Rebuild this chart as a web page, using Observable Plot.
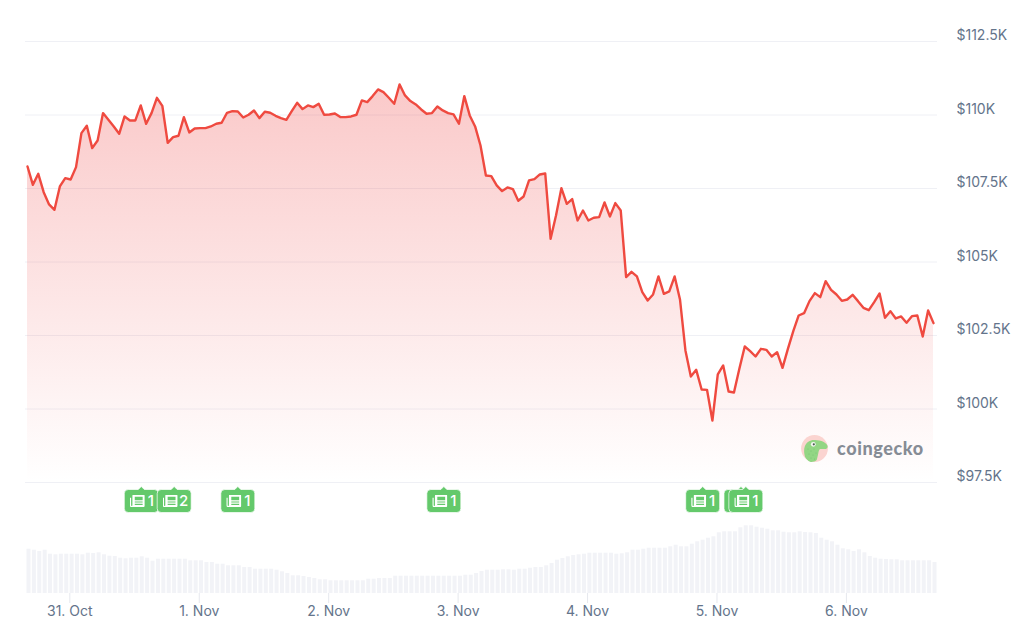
<!DOCTYPE html>
<html>
<head>
<meta charset="utf-8">
<script src="https://cdn.jsdelivr.net/npm/d3@7"></script>
<script src="https://cdn.jsdelivr.net/npm/@observablehq/plot@0.6"></script>
<style>
html,body{margin:0;padding:0;background:#fff;}
#chart{position:relative;width:1024px;height:639px;overflow:hidden;font-family:Inter,sans-serif;}
#chart>svg{position:absolute;left:0;top:0;}
#logo{position:absolute;left:801px;top:435px;display:flex;align-items:center;height:27px;}
#logo span{margin-left:9px;margin-top:-2px;font-family:Lato,sans-serif;font-weight:900;font-size:18px;letter-spacing:.6px;color:#868c95;}
</style>
</head>
<body>
<div id="chart"></div>
<script>
const prices = [
108249,107626,108000,107376,106957,106775,107569,107852,107807,108227,
109383,109633,108873,109134,110064,109837,109610,109361,109950,109814,
109814,110325,109701,110064,110585,110313,109054,109247,109293,109928,
109406,109542,109553,109553,109610,109701,109735,110075,110132,110120,
109916,110007,110154,109894,110109,110075,109973,109894,109837,110132,
110415,110200,110325,110268,110381,110007,110018,110052,109928,109928,
109951,110008,110495,110439,110643,110870,110779,110586,110382,111040,
110665,110473,110359,110189,110042,110064,110291,110155,110064,110019,
109702,110643,109985,109611,108964,107944,107921,107604,107411,107536,
107479,107082,107229,107774,107819,107978,108012,105789,106583,107513,
106980,107139,106413,106753,106413,106504,106526,107025,106549,107003,
106753,104485,104667,104508,103975,103691,103896,104508,103918,103998,
104508,103714,101990,101106,101332,100663,100652,99609,101174,101480,
100595,100561,101366,102126,101968,101786,102047,102013,101786,101933,
101401,102047,102648,103181,103260,103669,103941,103805,104349,104054,
103895,103680,103725,103884,103669,103442,103362,103634,103929,103102,
103328,103079,103147,102931,103158,103181,102466,103351,102920
];
const volumes = [
44.3,43.3,42,43.3,39.3,38.7,39.3,39.3,39.3,39.3,
38.7,40.3,40,40.7,38.7,37.3,37,35.3,34.7,35.3,
35.3,36.7,35.3,32.3,34.3,34.3,34.3,34.3,34.3,34.3,
32.7,32.7,32.7,31,31,29.3,29.3,27.7,27.7,27.7,
26,26,24.3,24.3,24.3,24.3,23.3,21.7,20,17.7,
17.7,17,16,15,13.7,13.7,12.7,12.7,12.7,12.7,
12.7,12.7,12.7,14.3,14.3,15,15,15,17.3,17.3,
17.3,17.3,17.3,17.3,17.3,17.3,17.3,17.3,17.3,17.3,
17.3,18.3,18.3,20,22,23.3,23.3,23.3,23.7,23.7,
23.3,24.3,24.3,25.3,26,26,27.7,30,33.3,35,
36.7,38,38.7,39.3,40.3,40.3,40.3,40.3,40.3,39.3,
39.7,40.7,43.3,43.3,44.3,45.3,45.3,45.3,45.3,46.7,
48.3,46.7,46.7,49.3,51.7,53.3,55.3,56.7,60.7,61.7,
61.7,61.7,65.7,67.7,67.7,66.3,65.3,64.3,62.7,62.7,
61.3,60.7,60.7,61.7,61,60.7,60,55.3,53.3,51.7,
48.3,44.7,43.7,42,43.7,40.7,37,35.3,34.3,34,
33.7,33.7,32.7,32.7,32.7,32.7,32.7,32.7,31
];
const priceTicks = [97500,100000,102500,105000,107500,110000,112500];
const priceLabels = ["$97.5K","$100K","$102.5K","$105K","$107.5K","$110K","$112.5K"];
const newsHours = [21.1,27.2,39.0,77.2,125.2,132.3,133.2];
const newsCounts = [1,2,1,1,1,null,1]; // the sixth badge's count is hidden behind the seventh

const H = 3600e3;
const t0 = Date.UTC(2025, 9, 31) - 7.85 * H;
const at = h => new Date(t0 + h * H);
const series = prices.map((price, i) => ({time: at(i), price, volume: volumes[i]}));
const news = newsHours.map((h, i) => ({time: at(h), count: newsCounts[i], level: 92.5}));
const xDomain = [at(-0.37), at(168.74)];

const gradient = () => {
  const defs = d3.create("svg:defs");
  const g = defs.append("linearGradient").attr("id", "priceFill").attr("x1", 0).attr("x2", 0).attr("y1", 0).attr("y2", 1);
  g.append("stop").attr("offset", "0%").attr("stop-color", "#ef4444").attr("stop-opacity", 0.29);
  g.append("stop").attr("offset", "100%").attr("stop-color", "#ef4444").attr("stop-opacity", 0);
  return defs.node();
};

const badge = {
  draw(c) {
    const l = -17, r = 17, t = -11.5, b = 11.5, k = 4;
    c.moveTo(l + k, t);
    c.lineTo(-3, t); c.lineTo(0, t - 3); c.lineTo(3, t);
    c.lineTo(r - k, t); c.arcTo(r, t, r, t + k, k);
    c.lineTo(r, b - k); c.arcTo(r, b, r - k, b, k);
    c.lineTo(l + k, b); c.arcTo(l, b, l, b - k, k);
    c.lineTo(l, t + k); c.arcTo(l, t, l + k, t, k);
    c.closePath();
  }
};
const icon = "data:image/svg+xml," + encodeURIComponent(
  '<svg xmlns="http://www.w3.org/2000/svg" viewBox="0 0 16 13"><path fill="#fff" fill-rule="evenodd" d="M4 0h11a1 1 0 0 1 1 1v10.5a1.5 1.5 0 0 1-1.5 1.5H2a2 2 0 0 1-2-2V3h1.4v8a.7.7 0 0 0 1.4 0V1a1 1 0 0 1 1.2-1zM5.3 2v3.6h8.4V2zM5.3 7v1.2h8.4V7zM5.3 9.5v1.2h8.4V9.5z"/></svg>');

const common = {
  width: 1024, height: 639,
  marginLeft: 25, marginRight: 87,
  x: {type: "utc", domain: xDomain},
  style: {background: "transparent", fontFamily: "Inter, sans-serif", fontSize: "14px", overflow: "visible"}
};

const priceChart = Plot.plot({
  ...common,
  marginTop: 41, marginBottom: 157,
  y: {domain: [97500, 112500]},
  marks: [
    Plot.ruleY(priceTicks, {stroke: "#eff0f5", strokeWidth: 1}),
    gradient,
    Plot.areaY(series, {x: "time", y1: 97500, y2: "price", fill: "url(#priceFill)"}),
    Plot.lineY(series, {x: "time", y: "price", stroke: "#ef4a40", strokeWidth: 2.4, strokeLinejoin: "round", curve: "linear"}),
    Plot.axisY({anchor: "right", ticks: priceTicks, tickSize: 0, tickPadding: 19, dy: -5.5, label: null,
      tickFormat: d => priceLabels[priceTicks.indexOf(d)], fill: "#64748b", fontSize: 14, fontVariant: "normal"}),
    Plot.axisX({ticks: [], label: null})
  ]
});

const volumeChart = Plot.plot({
  ...common,
  marginTop: 493, marginBottom: 46,
  y: {domain: [0, 100]},
  marks: [
    Plot.ruleX(series, {x: "time", y1: 0, y2: "volume", stroke: "#f2f3f7", strokeWidth: 4, dx: 1}),
    Plot.axisX({ticks: d3.utcDay.range(at(0), at(169)), tickSize: 10, tickPadding: 3, label: null,
      tickFormat: d3.utcFormat("%-d. %b"), stroke: "#e6e8ee", fill: "#64748b", fontSize: 14, fontVariant: "normal"}),
    Plot.axisY({ticks: [], label: null}),
    ...news.flatMap(n => [
      Plot.dot([n], {x: "time", y: "level", symbol: badge, r: 5, fill: "#64c96b", stroke: "#fff", strokeWidth: 0.7}),
      Plot.image([n], {x: "time", y: "level", src: icon, width: 15, height: 12.2, dx: -4}),
      Plot.text([n], {x: "time", y: "level", text: "count", dx: 9.5, fill: "#fff", fontSize: 15, fontWeight: 500, fontVariant: "normal"})
    ])
  ]
});

const host = document.getElementById("chart");
host.append(priceChart, volumeChart);
const logo = document.createElement("div");
logo.id = "logo";
logo.innerHTML = '<svg width="27" height="27" viewBox="0 0 27 27"><circle cx="13.5" cy="13.5" r="13.4" fill="#fbd4d0"/><path fill="#93d684" d="M4 21.7 C3 18 3 16 3.3 13.3 C4 10 5.5 8 7.3 6.7 C9.5 5.2 12 4.6 14 5 C17 5.2 20 5.5 22.3 6.7 C24.5 7.8 26 9.3 26.6 11 C26.8 13 25.5 14 23.5 14 C21.5 14 20 13.8 19 14 C18 15 17.6 16.5 17.3 18.3 C16.8 21 16.3 23 15.7 25 C13.5 27 10.5 27.2 9 26.7 C7 26 5.2 24 4 21.7Z"/><circle cx="12.3" cy="9.3" r="2.4" fill="#f5f7f2"/><circle cx="12.8" cy="9.3" r="1.1" fill="#4a5a50"/><g fill="#74c06e"><circle cx="7" cy="14" r=".5"/><circle cx="10" cy="16" r=".5"/><circle cx="13" cy="14" r=".5"/><circle cx="8" cy="19" r=".5"/><circle cx="12" cy="20" r=".5"/><circle cx="15" cy="18" r=".5"/><circle cx="10" cy="23" r=".5"/><circle cx="13.5" cy="24" r=".5"/></g></svg><span>coingecko</span>';
host.append(logo);
</script>
</body>
</html>
